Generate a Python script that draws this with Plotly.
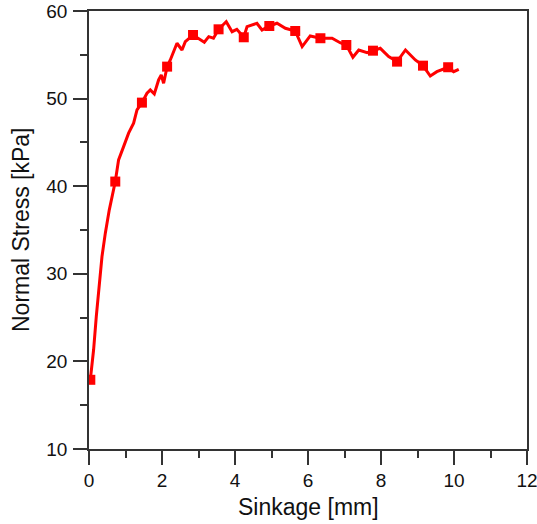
import plotly.graph_objects as go

# Measured normal stress vs. sinkage curve
sinkage_mm = [
    0.036, 0.126, 0.20, 0.282, 0.356, 0.447, 0.556, 0.72, 0.81, 0.948, 1.085,
    1.222, 1.315, 1.45, 1.589, 1.68, 1.789, 1.907, 1.98, 2.044, 2.14, 2.227,
    2.41, 2.548, 2.638, 2.85, 3.05, 3.16, 3.28, 3.41, 3.55, 3.76, 3.92, 4.05,
    4.24, 4.33, 4.60, 4.74, 4.94, 5.15, 5.38, 5.65, 5.84, 6.06, 6.34, 6.66,
    6.88, 7.05, 7.23, 7.39, 7.62, 7.78, 7.98, 8.21, 8.44, 8.67, 8.94, 9.15,
    9.35, 9.53, 9.67, 9.84, 9.99, 10.13,
]
stress_kpa = [
    17.9, 21.33, 25.13, 28.94, 31.97, 34.64, 37.3, 40.53, 43.0, 44.52, 46.05,
    47.19, 48.7, 49.54, 50.61, 51.0, 50.53, 52.13, 52.7, 51.75, 53.65, 54.41,
    56.32, 55.55, 56.5, 57.26, 56.69, 56.43, 57.07, 56.89, 57.91, 58.78, 57.64,
    57.91, 57.0, 58.21, 58.6, 57.83, 58.29, 58.6, 58.03, 57.72, 55.93, 57.15,
    56.89, 56.89, 56.38, 56.12, 54.72, 55.55, 55.24, 55.47, 55.74, 54.79,
    54.22, 55.55, 54.41, 53.76, 52.58, 53.07, 53.26, 53.58, 53.07, 53.34,
]

# Sampled points shown with square symbols
marker_sinkage = [0.036, 0.72, 1.45, 2.14, 2.85, 3.55, 4.24, 4.94, 5.65,
                  6.34, 7.05, 7.78, 8.44, 9.15, 9.84]
marker_stress = [17.9, 40.53, 49.54, 53.65, 57.26, 57.91, 57.0, 58.29, 57.72,
                 56.89, 56.12, 55.47, 54.22, 53.76, 53.58]

x_ticks = [0, 2, 4, 6, 8, 10, 12]
y_ticks = [10, 20, 30, 40, 50, 60]

RED = "#ff0000"
AXIS = "#333333"
TEXT = "#111111"
FONT = "Liberation Sans, Arial, sans-serif"

fig = go.Figure()
fig.add_trace(go.Scatter(
    x=sinkage_mm, y=stress_kpa, mode="lines",
    line=dict(color=RED, width=3), hoverinfo="skip", showlegend=False,
))
fig.add_trace(go.Scatter(
    x=marker_sinkage, y=marker_stress, mode="markers",
    marker=dict(symbol="square", size=10, color=RED, line=dict(width=0)),
    showlegend=False,
))

axis_common = dict(
    showgrid=False, zeroline=False, automargin=False,
    showline=True, linecolor=AXIS, linewidth=1.5, mirror=True,
    ticks="outside", ticklen=14, tickwidth=1.5, tickcolor=AXIS,
    tickfont=dict(family=FONT, size=19, color=TEXT),
    ticklabeloverflow="allow",
)

fig.update_xaxes(
    range=[0, 12], tickvals=x_ticks, ticktext=[str(v) for v in x_ticks],
    minor=dict(dtick=1, ticks="outside", ticklen=7, tickwidth=1.5, tickcolor=AXIS),
    ticklabelstandoff=-1,
    **axis_common,
)
fig.update_yaxes(
    range=[10, 60], tickvals=y_ticks, ticktext=[str(v) for v in y_ticks],
    minor=dict(dtick=5, ticks="outside", ticklen=7, tickwidth=1.5, tickcolor=AXIS),
    ticklabelstandoff=2,
    **axis_common,
)

# Axis titles placed as annotations for exact positioning
fig.add_annotation(
    text="Sinkage [mm]", xref="paper", yref="paper", x=0.5, y=0,
    xanchor="center", yanchor="middle", yshift=-58, showarrow=False,
    font=dict(family=FONT, size=23, color=TEXT),
)
fig.add_annotation(
    text="Normal Stress [kPa]", xref="paper", yref="paper", x=0, y=0.5,
    xanchor="center", yanchor="middle", xshift=-68, textangle=-90, showarrow=False,
    font=dict(family=FONT, size=23, color=TEXT),
)

fig.update_layout(
    width=537, height=524,
    margin=dict(l=89, r=10, t=11, b=75, pad=0),
    plot_bgcolor="white", paper_bgcolor="white",
)

fig.write_html("out.html")
